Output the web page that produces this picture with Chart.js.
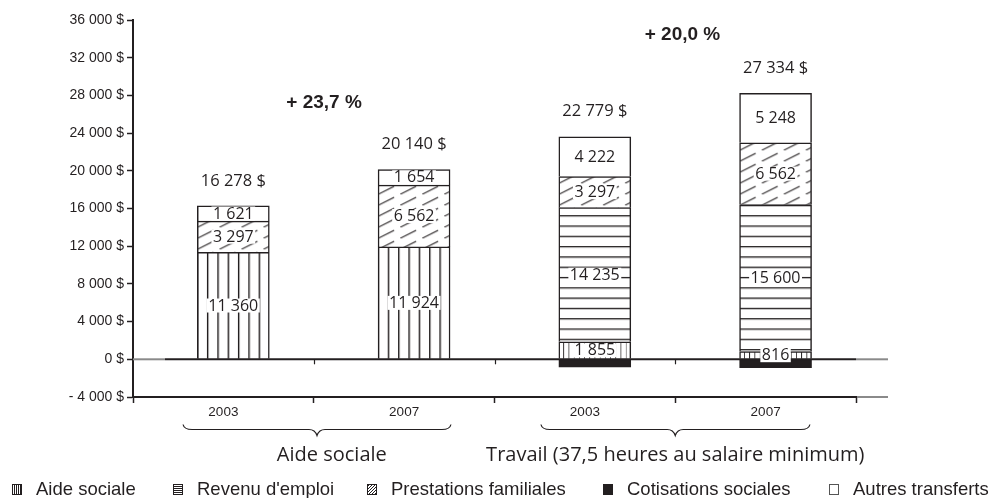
<!DOCTYPE html>
<html>
<head>
<meta charset="utf-8">
<script src="https://cdn.jsdelivr.net/npm/chart.js@4"></script>
<style>
  html, body { margin: 0; padding: 0; background: #fff; }
  #wrap { width: 998px; height: 498px; }
</style>
</head>
<body>
<div id="wrap"><canvas id="chart" width="998" height="498"></canvas></div>
<script>
// ─── Data ────────────────────────────────────────────────────────────────────
const years        = ['2003', '2007', '2003', '2007'];
const groups       = ['Aide sociale', 'Travail (37,5 heures au salaire minimum)'];
const aideSociale  = [11360, 11924, 1855, 816];
const revenuEmploi = [null, null, 14235, 15600];
const prestations  = [3297, 6562, 3297, 6562];
const cotisations  = [null, null, -830, -892];
const autres       = [1621, 1654, 4222, 5248];
const variations   = ['+ 23,7 %', '+ 20,0 %'];
const yTicks       = [-4000, 0, 4000, 8000, 12000, 16000, 20000, 24000, 28000, 32000, 36000];

// ─── Style tokens ────────────────────────────────────────────────────────────
const INK   = '#231f20';
const GREY  = '#8a8a8a';
const BAR_W = 72;
const BAR_SHIFT = 0.055;              // bars sit a little right of the category centre
const STRIPE = [1.033, 1.033, 0.52, 0.52];
const AXIS_FONT = "'Liberation Sans', Arial, sans-serif";
const LBL_FONT  = "'Open Sans', 'Noto Sans', sans-serif";

Chart.defaults.font.family = AXIS_FONT;
Chart.defaults.color = INK;

// ─── Formatters ──────────────────────────────────────────────────────────────
const grp = n => String(Math.abs(n)).replace(/\B(?=(\d{3})+(?!\d))/g, ' ');
const yLabel = v => v === 0 ? '0 $' : (v < 0 ? '- ' + grp(v) + ' $' : grp(v) + ' $');

// ─── Patterns ────────────────────────────────────────────────────────────────
function tile(w, h, draw) {
  const c = document.createElement('canvas');
  c.width = w; c.height = h;
  const g = c.getContext('2d');
  g.fillStyle = '#fff'; g.fillRect(0, 0, w, h);
  g.fillStyle = INK; g.strokeStyle = INK;
  draw(g, w, h);
  return c;
}
const tiles = {
  v: tile(10, 10, g => g.fillRect(0, 0, 1.4, 10)),
  h: tile(10, 10, g => g.fillRect(0, 0, 10, 1.3)),
  d: tile(22, 11, (g, w, h) => {
    g.lineWidth = 1.1;
    [[0, 0], [w, -h], [-w, h]].forEach(([dx, dy]) => {
      g.beginPath();
      g.moveTo(dx, h + dy);
      g.lineTo(16 + dx, h - 16 * h / w + dy);
      g.stroke();
    });
  }),
};

function pattern(kind) {
  return ctx => {
    const chart = ctx.chart, i = ctx.dataIndex;
    const xs = chart.scales.x, ys = chart.scales.y;
    if (i === undefined || !xs || !ys) return '#fff';
    const left = xs.getPixelForValue(i + 0.5 + BAR_SHIFT) - BAR_W / 2;
    const zero = ys.getPixelForValue(0);
    if (!isFinite(left) || !isFinite(zero)) return '#fff';
    const p = chart.ctx.createPattern(tiles[kind], 'repeat');
    const m = new DOMMatrix();
    if (kind === 'v') { m.translateSelf(left - 0.7, 0); m.scaleSelf(STRIPE[i], 1); }
    if (kind === 'h') { m.translateSelf(0, zero); m.scaleSelf(1, 1.03); }
    if (kind === 'd') { m.translateSelf(left, zero); }
    p.setTransform(m);
    return p;
  };
}

// ─── Datasets ────────────────────────────────────────────────────────────────
const pts = arr => arr.map((y, i) => ({ x: i + 0.5 + BAR_SHIFT, y }));
const common = { stack: 'all', barThickness: BAR_W, borderColor: INK, borderWidth: 1.5, borderSkipped: 'start' };

const datasets = [
  { ...common, label: 'Aide sociale',           data: pts(aideSociale),  backgroundColor: pattern('v'), kind: 'v' },
  { ...common, label: "Revenu d'emploi",        data: pts(revenuEmploi), backgroundColor: pattern('h'), kind: 'h' },
  { ...common, label: 'Prestations familiales', data: pts(prestations),  backgroundColor: pattern('d'), kind: 'd' },
  { ...common, label: 'Cotisations sociales',   data: pts(cotisations),  backgroundColor: INK, kind: 'k' },
  { ...common, label: 'Autres transferts',      data: pts(autres),       backgroundColor: '#fff', kind: 'w' },
];
const series = [aideSociale, revenuEmploi, prestations, cotisations, autres];

// ─── Decorations ─────────────────────────────────────────────────────────────
function brace(g, x0, x1, xm, y) {
  g.beginPath();
  g.moveTo(x0, y - 5);
  g.quadraticCurveTo(x0 + 1, y, x0 + 9, y);
  g.lineTo(xm - 8, y);
  g.quadraticCurveTo(xm - 2, y, xm, y + 6);
  g.quadraticCurveTo(xm + 2, y, xm + 8, y);
  g.lineTo(x1 - 9, y);
  g.quadraticCurveTo(x1 - 1, y, x1, y - 5);
  g.stroke();
}

function legendIcon(g, kind, x, y) {
  const w = 10, h = 11;
  g.save();
  g.fillStyle = kind === 'k' ? INK : '#fff';
  g.fillRect(x, y, w, h);
  g.strokeStyle = kind === 'w' ? '#555' : INK;
  g.lineWidth = 1;
  g.strokeRect(x + 0.5, y + 0.5, w - 1, h - 1);
  g.beginPath();
  if (kind === 'v') for (let k = 2; k < w - 1; k += 2) { g.moveTo(x + k + 0.5, y); g.lineTo(x + k + 0.5, y + h); }
  if (kind === 'h') for (let k = 2; k < h - 1; k += 2) { g.moveTo(x, y + k + 0.5); g.lineTo(x + w, y + k + 0.5); }
  if (kind === 'd') {
    g.rect(x, y, w, h); g.clip(); g.beginPath();
    for (let k = -h; k < w + h; k += 3) { g.moveTo(x + k, y + h); g.lineTo(x + k + h, y); }
  }
  g.stroke();
  g.restore();
}

const decor = {
  id: 'decor',
  afterDatasetsDraw(chart) {
    const g = chart.ctx, xs = chart.scales.x, ys = chart.scales.y;
    const zero = ys.getPixelForValue(0);
    const L = chart.chartArea.left, R = chart.chartArea.right;
    g.save();
    // zero line
    g.lineWidth = 2;
    g.strokeStyle = GREY;
    g.beginPath(); g.moveTo(L, zero); g.lineTo(L + 32, zero); g.stroke();
    g.beginPath(); g.moveTo(R, zero); g.lineTo(R + 32, zero); g.stroke();
    g.strokeStyle = INK;
    g.beginPath(); g.moveTo(L + 32, zero); g.lineTo(R, zero); g.stroke();
    g.lineWidth = 1.2;
    for (let k = 1; k < years.length; k++) {
      const px = Math.round(xs.getPixelForValue(k)) + 0.5;
      g.beginPath(); g.moveTo(px, zero); g.lineTo(px, zero + 5); g.stroke();
    }

    // segment labels
    g.font = '16px ' + LBL_FONT;
    g.textAlign = 'center';
    g.textBaseline = 'middle';
    chart.data.datasets.forEach((ds, d) => {
      if (ds.kind === 'k') return;
      chart.getDatasetMeta(d).data.forEach((el, i) => {
        const v = series[d][i];
        if (v === null) return;
        const { x, y, base } = el.getProps(['x', 'y', 'base'], true);
        const cy = (y + base) / 2;
        const t = grp(v);
        const w = g.measureText(t).width;
        g.fillStyle = '#fff';
        g.fillRect(x - w / 2 - 1.5, cy - 7, w + 3, 14);
        g.fillStyle = INK;
        g.fillText(t, x, cy + 0.5);
      });
    });

    // totals above the bars
    g.font = '16.5px ' + LBL_FONT;
    years.forEach((_, i) => {
      let pos = 0, tot = 0;
      series.forEach(s => { const v = s[i]; if (v === null) return; tot += v; if (v > 0) pos += v; });
      const x = xs.getPixelForValue(i + 0.5 + BAR_SHIFT);
      g.fillText(grp(tot) + ' $', x, ys.getPixelForValue(pos) - 25);
    });
    g.restore();
  },
  afterDraw(chart) {
    const g = chart.ctx, xs = chart.scales.x, ys = chart.scales.y;
    const R = chart.chartArea.right, B = chart.chartArea.bottom;
    g.save();
    // grey tail of the bottom axis
    g.strokeStyle = GREY; g.lineWidth = 2;
    g.beginPath(); g.moveTo(R + 1, B); g.lineTo(R + 32, B); g.stroke();

    // braces + group names
    g.strokeStyle = INK; g.lineWidth = 1.2;
    const spans = [[0.277, 1.759, 1.018], [2.257, 3.745, 3.0]];
    spans.forEach(([a, b, m]) => brace(g, xs.getPixelForValue(a), xs.getPixelForValue(b), xs.getPixelForValue(m), 429.5));
    g.fillStyle = INK;
    g.textAlign = 'center';
    g.textBaseline = 'middle';
    g.font = '20px ' + LBL_FONT;
    const gx = [1.1, 3.0];
    groups.forEach((t, k) => g.fillText(t, xs.getPixelForValue(gx[k]), 455));

    // variation labels
    g.font = 'bold 19px ' + AXIS_FONT;
    const vpos = [[1.057, 27270], [3.04, 34430]];
    variations.forEach((t, k) => g.fillText(t, xs.getPixelForValue(vpos[k][0]), ys.getPixelForValue(vpos[k][1])));

    // legend
    g.font = '18.5px ' + AXIS_FONT;
    g.textAlign = 'left';
    const lx = [12, 173, 367, 603, 829];
    chart.data.datasets.forEach((ds, d) => {
      legendIcon(g, ds.kind, lx[d], 484);
      g.fillStyle = INK;
      g.fillText(ds.label, lx[d] + 24, 490);
    });
    g.restore();
  },
};

// ─── Chart ───────────────────────────────────────────────────────────────────
const xTickValues = [];
for (let k = 0; k <= years.length; k++) { xTickValues.push(k); if (k < years.length) xTickValues.push(k + 0.5); }

new Chart(document.getElementById('chart'), {
  type: 'bar',
  data: { datasets },
  plugins: [decor],
  options: {
    responsive: false,
    animation: false,
    events: [],
    layout: { padding: { top: 20, right: 142, bottom: 0, left: 0 } },
    plugins: { legend: { display: false }, tooltip: { enabled: false } },
    scales: {
      x: {
        type: 'linear', min: 0, max: years.length, offset: false,
        afterBuildTicks: s => { s.ticks = xTickValues.map(v => ({ value: v })); },
        afterFit: s => { s.height = 101; },
        grid: {
          offset: false, drawOnChartArea: false, tickLength: 6, tickWidth: 1.5,
          tickColor: c => (c.tick && Number.isInteger(c.tick.value)) ? INK : 'rgba(0,0,0,0)',
        },
        border: { display: true, color: INK, width: 2 },
        ticks: {
          autoSkip: false, maxRotation: 0, padding: 1, color: INK, font: { size: 13.5 },
          callback: v => Number.isInteger(v) ? '' : years[Math.floor(v)],
        },
      },
      y: {
        min: -4000, max: 36000, stacked: true,
        afterBuildTicks: s => { s.ticks = yTicks.map(v => ({ value: v })); },
        afterFit: s => { s.width = 133; },
        grid: { drawOnChartArea: false, tickLength: 6, tickWidth: 1.5, tickColor: INK },
        border: { display: true, color: INK, width: 2 },
        ticks: { padding: 3, color: INK, font: { size: 14 }, callback: v => yLabel(v) },
      },
    },
  },
});
</script>
</body>
</html>
